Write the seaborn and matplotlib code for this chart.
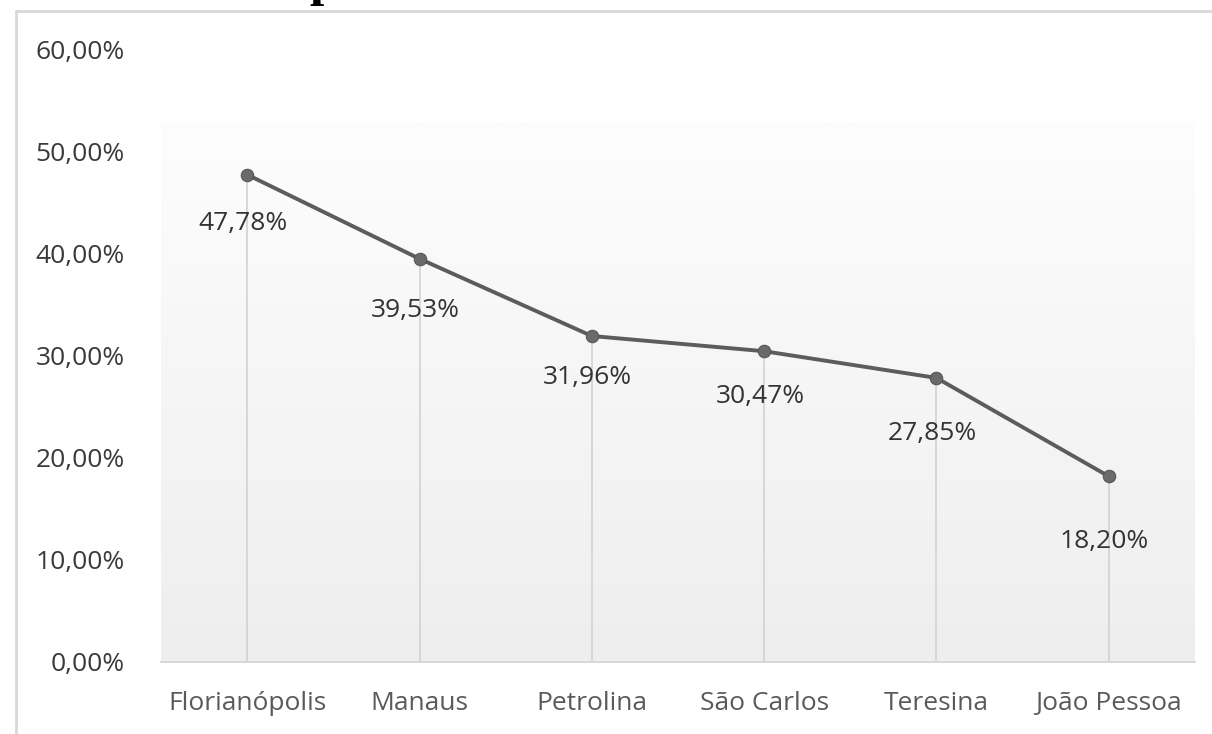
import matplotlib
matplotlib.use("Agg")
import matplotlib.pyplot as plt
import seaborn as sns
import numpy as np
import pandas as pd
from matplotlib.lines import Line2D
from matplotlib.colors import LinearSegmentedColormap

# Dados
cidades = ["Florianópolis", "Manaus", "Petrolina", "São Carlos", "Teresina", "João Pessoa"]
percentuais = [47.78, 39.53, 31.96, 30.47, 27.85, 18.20]
ticks_y = [0, 10, 20, 30, 40, 50, 60]
rotulos_y = ["0,00%", "10,00%", "20,00%", "30,00%", "40,00%", "50,00%", "60,00%"]

# Deslocamento vertical de cada rótulo abaixo do ponto (em pontos tipográficos)
desloc_rotulos = [35, 37.5, 30, 32.5, 40, 47]

df = pd.DataFrame({"cidade": cidades, "valor": percentuais})

sns.set_theme(style="white")
plt.rcParams["font.family"] = ["Open Sans", "DejaVu Sans"]

W, H = 1212, 734
fig = plt.figure(figsize=(W / 100, H / 100), dpi=100)
fig.patch.set_facecolor("white")

ax = fig.add_axes([161 / W, 1 - 662 / H, (1195 - 161) / W, (662 - 50) / H])
ax.set_facecolor("none")

# Fundo em degradê da área de plotagem
grad = LinearSegmentedColormap.from_list("fundo", ["#eeeeee", "#fdfdfd"])
ax.imshow(np.linspace(0, 1, 256).reshape(-1, 1), extent=[-0.5, 5.5, 0, 52.9],
          origin="lower", aspect="auto", cmap=grad, zorder=0)

x = np.arange(len(cidades))

# Linhas de queda até o eixo
ax.vlines(x, 0, percentuais, color="#d2d2d2", lw=1.2, zorder=1)

# Linha com marcadores
sns.lineplot(data=df, x="cidade", y="valor", ax=ax, color="#5c5c5c", lw=2.8,
             marker="o", markersize=9, markeredgecolor="#555555",
             markerfacecolor="#6a6a6a", zorder=3, sort=False)

# Rótulos de dados
for i, (v, d) in enumerate(zip(percentuais, desloc_rotulos)):
    ax.annotate(f"{v:.2f}%".replace(".", ","), (i, v), xytext=(-3, -d),
                textcoords="offset points", ha="center", va="center",
                fontsize=19, color="#333333", zorder=4)

ax.set_xlim(-0.5, 5.5)
ax.set_ylim(0, 60)
ax.set_yticks(ticks_y)
ax.set_yticklabels(rotulos_y)
ax.set_xticks(x)
ax.set_xticklabels(cidades)
ax.set_xlabel("")
ax.set_ylabel("")
ax.tick_params(axis="y", length=0, pad=26, labelsize=19, labelcolor="#3a3a3a")
ax.tick_params(axis="x", length=0, pad=21, labelsize=19, labelcolor="#5a5a5a")
ax.grid(False)

for s in ["left", "right", "top"]:
    ax.spines[s].set_visible(False)
ax.spines["bottom"].set_color("#d6d6d6")
ax.spines["bottom"].set_linewidth(1.4)

# Moldura do gráfico
fig.add_artist(Line2D([16 / W, 16 / W], [0, 1 - 11 / H], transform=fig.transFigure,
                      color="#d8d8d8", lw=2))
fig.add_artist(Line2D([16 / W, 1], [1 - 11 / H, 1 - 11 / H], transform=fig.transFigure,
                      color="#d8d8d8", lw=2))

# Título (cortado na borda superior)
fig.text(309 / W, 1 + 5 / H, "p", fontfamily="Liberation Serif", fontweight="bold",
         fontsize=37, ha="left", va="baseline", color="black")

fig.savefig("out.png", dpi=100, facecolor="white")
